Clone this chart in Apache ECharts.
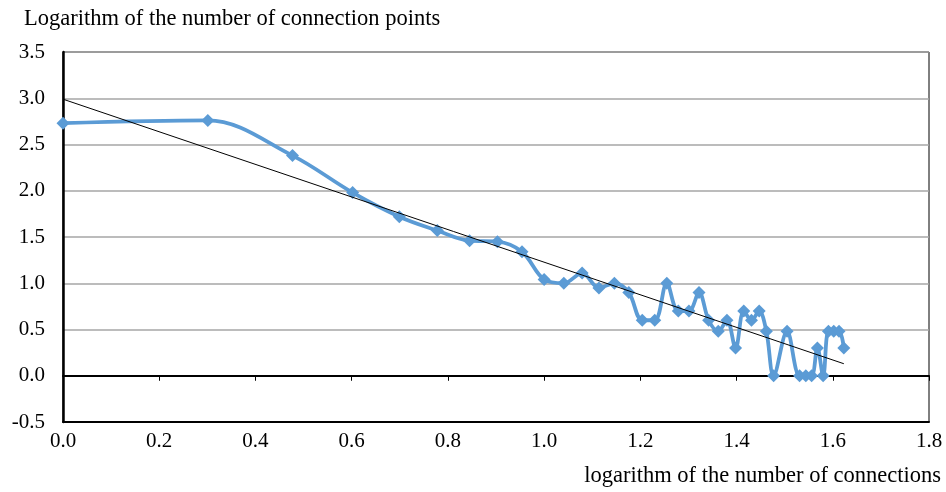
<!DOCTYPE html>
<html>
<head>
<meta charset="utf-8">
<script src="https://cdn.jsdelivr.net/npm/echarts@6/dist/echarts.min.js"></script>
<style>html,body{margin:0;padding:0;background:#fff;}#c{width:946px;height:492px;}</style>
</head>
<body>
<div id="c"></div>
<script>
// log10 of number of connections (x) and log10 of number of connection points (y)
var xValues = [0, 0.301, 0.477, 0.602, 0.699, 0.778, 0.845, 0.903, 0.954, 1.0,
  1.041, 1.079, 1.114, 1.146, 1.176, 1.204, 1.230, 1.255, 1.279, 1.301,
  1.322, 1.342, 1.362, 1.380, 1.398, 1.415, 1.431, 1.447, 1.462, 1.477,
  1.505, 1.531, 1.544, 1.556, 1.568, 1.580, 1.591, 1.602, 1.613, 1.623];
var yValues = [2.73, 2.76, 2.38, 1.98, 1.72, 1.57, 1.46, 1.45, 1.34, 1.04,
  1.00, 1.11, 0.95, 1.00, 0.90, 0.60, 0.60, 1.00, 0.70, 0.70,
  0.90, 0.60, 0.48, 0.60, 0.30, 0.70, 0.60, 0.70, 0.48, 0.00,
  0.48, 0.00, 0.00, 0.00, 0.30, 0.00, 0.48, 0.48, 0.48, 0.30];
// linear trend line end points
var trendX = [0, 1.623];
var trendY = [2.99, 0.13];

var yTitle = 'Logarithm of the number of connection points';
var xTitle = 'logarithm of the number of connections';

var font = '"Liberation Serif", "DejaVu Serif", serif';
var pts = xValues.map(function (x, i) { return [x, yValues[i]]; });
var trend = trendX.map(function (x, i) { return [x, trendY[i]]; });

var chart = echarts.init(document.getElementById('c'), null, {renderer: 'canvas'});
chart.setOption({
  animation: false,
  backgroundColor: '#fff',
  title: {
    text: yTitle, left: 19, top: 3,
    textStyle: {fontFamily: font, fontSize: 22.5, fontWeight: 'normal', color: '#000'}
  },
  graphic: [{
    type: 'text', right: 5, top: 465,
    style: {text: xTitle, font: '22.5px ' + font, fill: '#000'}
  }],
  grid: {left: 63, right: 17, top: 52, bottom: 70, show: true, borderColor: '#000', borderWidth: 1},
  xAxis: [{
    type: 'value', min: 0, max: 1.8, interval: 0.2,
    axisLine: {onZero: false, lineStyle: {color: '#000', width: 2}},
    axisTick: {show: false},
    splitLine: {show: false},
    axisLabel: {margin: 9, fontFamily: font, fontSize: 21, color: '#000',
      formatter: function (v) { return v.toFixed(1); }}
  }, {
    type: 'value', min: 0, max: 1.8, interval: 0.2, position: 'bottom',
    axisLine: {onZero: true, onZeroAxisIndex: 0, lineStyle: {color: '#000', width: 2}},
    axisTick: {show: true, length: 5, lineStyle: {color: '#000', width: 1}},
    axisLabel: {show: false},
    splitLine: {show: false}
  }],
  yAxis: {
    type: 'value', min: -0.5, max: 3.5, interval: 0.5,
    axisLine: {show: true, onZero: false, lineStyle: {color: '#000', width: 2.5}},
    axisTick: {show: false},
    splitLine: {show: true, lineStyle: {color: '#a6a6a6', width: 1.5}},
    axisLabel: {margin: 18, fontFamily: font, fontSize: 21, color: '#000',
      formatter: function (v) { return v.toFixed(1); }}
  },
  series: [{
    type: 'line', data: pts, xAxisIndex: 0, smooth: 0.35,
    symbol: 'diamond', symbolSize: 13,
    lineStyle: {color: '#5B9BD5', width: 3.8},
    itemStyle: {color: '#5B9BD5'},
    z: 3
  }, {
    type: 'line', data: trend, xAxisIndex: 0, symbol: 'none',
    lineStyle: {color: '#000', width: 1},
    z: 4
  }]
});
</script>
</body>
</html>
